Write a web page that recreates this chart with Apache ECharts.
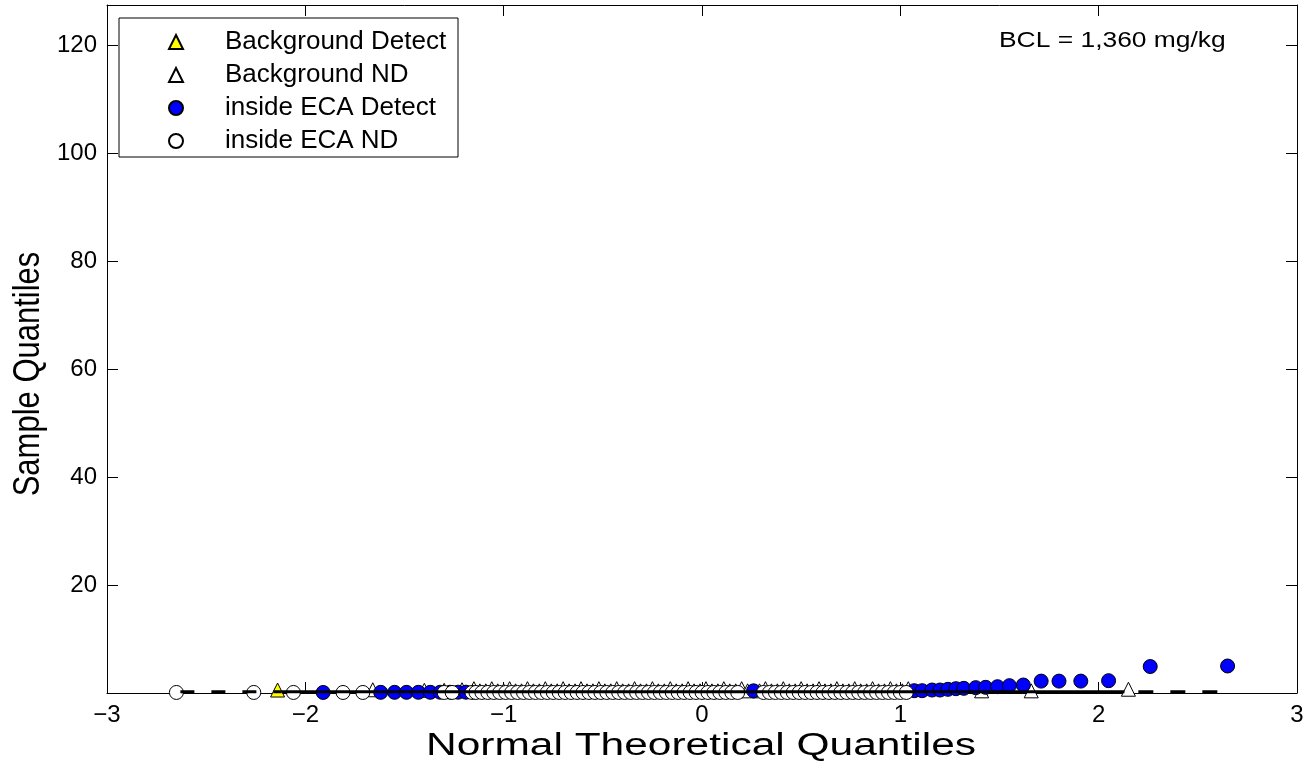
<!DOCTYPE html>
<html><head><meta charset="utf-8">
<script src="https://cdn.jsdelivr.net/npm/echarts@6/dist/echarts.min.js"></script>
<style>html,body{margin:0;padding:0;background:#fff}#c{width:1315px;height:771px}</style>
</head><body><div id="c"></div><script>
var xTicks = [-3, -2, -1, 0, 1, 2, 3];
var yTicks = [20, 40, 60, 80, 100, 120];

var bgDetect = [[-2.14, 0.55]];

var bgND = [
  [-1.66, 0.6], [-1.40, 0.5], [-1.30, 0.5], [-1.21, 0.6],
  [-1.15, 0.8], [-1.12, 0.4], [-1.09, 0.4], [-1.06, 0.8], [-1.03, 0.4], [-1.00, 0.4],
  [-0.97, 0.8], [-0.94, 0.4], [-0.91, 0.4], [-0.88, 0.8], [-0.85, 0.4], [-0.82, 0.4],
  [-0.79, 0.8], [-0.76, 0.4], [-0.73, 0.4], [-0.70, 0.8], [-0.67, 0.4], [-0.64, 0.4],
  [-0.61, 0.8], [-0.58, 0.4], [-0.55, 0.4], [-0.52, 0.8], [-0.49, 0.4], [-0.46, 0.4],
  [-0.43, 0.8], [-0.40, 0.4], [-0.37, 0.4], [-0.34, 0.8], [-0.31, 0.4], [-0.28, 0.4],
  [-0.25, 0.8], [-0.22, 0.4], [-0.19, 0.4], [-0.16, 0.8], [-0.13, 0.4], [-0.10, 0.4],
  [-0.07, 0.8], [-0.04, 0.4], [-0.01, 0.4], [0.02, 0.8], [0.05, 0.4], [0.08, 0.4],
  [0.11, 0.8], [0.14, 0.4], [0.17, 0.4], [0.20, 0.8], [0.23, 0.4], [0.29, 0.4],
  [0.32, 0.8], [0.35, 0.4], [0.38, 0.4], [0.41, 0.8], [0.44, 0.4], [0.47, 0.4],
  [0.50, 0.8], [0.53, 0.4], [0.56, 0.4], [0.59, 0.8], [0.62, 0.4], [0.65, 0.4],
  [0.68, 0.8], [0.71, 0.4], [0.74, 0.4], [0.77, 0.8], [0.80, 0.4], [0.83, 0.4],
  [0.86, 0.8], [0.89, 0.4], [0.92, 0.4], [0.95, 0.8], [0.98, 0.4], [1.01, 0.4],
  [1.04, 0.8], [1.41, 0.4], [1.66, 0.4], [2.15, 0.7]
];

var ecaDetect = [
  [-1.91, 0.10], [-1.62, 0.12], [-1.55, 0.12], [-1.49, 0.12], [-1.43, 0.13],
  [-1.37, 0.13], [-1.32, 0.14], [-1.27, 0.14], [-1.23, 0.15], [-1.19, 0.15],
  [0.26, 0.40],
  [1.07, 0.43], [1.11, 0.43], [1.16, 0.55], [1.20, 0.55], [1.24, 0.68],
  [1.28, 0.80], [1.32, 0.86], [1.38, 0.99], [1.43, 1.05], [1.49, 1.17],
  [1.55, 1.36], [1.62, 1.48], [1.71, 2.20], [1.80, 2.20], [1.91, 2.20],
  [2.05, 2.28], [2.26, 4.90], [2.65, 5.00]
];

var ecaND = [
  [-2.65, 0.1], [-2.26, 0.1], [-2.06, 0.1], [-1.81, 0.1], [-1.71, 0.1],
  [-1.30, 0.1], [-1.26, 0.1], [-1.16, 0.1],
  [-1.14, 0.1], [-1.11, 0.1], [-1.08, 0.1], [-1.05, 0.1], [-1.02, 0.1], [-0.99, 0.1],
  [-0.96, 0.1], [-0.93, 0.1], [-0.90, 0.1], [-0.87, 0.1], [-0.84, 0.1], [-0.81, 0.1],
  [-0.78, 0.1], [-0.75, 0.1], [-0.72, 0.1], [-0.69, 0.1], [-0.66, 0.1], [-0.63, 0.1],
  [-0.60, 0.1], [-0.57, 0.1], [-0.54, 0.1], [-0.51, 0.1], [-0.48, 0.1], [-0.45, 0.1],
  [-0.42, 0.1], [-0.39, 0.1], [-0.36, 0.1], [-0.33, 0.1], [-0.30, 0.1], [-0.27, 0.1],
  [-0.24, 0.1], [-0.21, 0.1], [-0.18, 0.1], [-0.15, 0.1], [-0.12, 0.1], [-0.09, 0.1],
  [-0.06, 0.1], [-0.03, 0.1], [0.00, 0.1], [0.03, 0.1], [0.06, 0.1], [0.09, 0.1],
  [0.12, 0.1], [0.15, 0.1], [0.18, 0.1], [0.31, 0.1],
  [0.34, 0.1], [0.37, 0.1], [0.40, 0.1], [0.43, 0.1], [0.46, 0.1], [0.49, 0.1],
  [0.52, 0.1], [0.55, 0.1], [0.58, 0.1], [0.61, 0.1], [0.64, 0.1], [0.67, 0.1],
  [0.70, 0.1], [0.73, 0.1], [0.76, 0.1], [0.79, 0.1], [0.82, 0.1], [0.85, 0.1],
  [0.88, 0.1], [0.91, 0.1], [0.94, 0.1], [0.97, 0.1], [1.00, 0.1], [1.03, 0.1]
];

var fitSolid = [[-2.12, 0.25], [2.13, 0.25]];
var fitDashLeft = [[-2.63, 0.25], [-2.12, 0.25]];
var fitDashRight = [[2.20, 0.25], [2.60, 0.25]];

var FONT = 'Liberation Sans';
var chart = echarts.init(document.getElementById('c'));

function xFmt(v) {
  if (xTicks.indexOf(v) < 0) return '';
  return v < 0 ? '\u2212' + Math.abs(v) : String(v);
}
function yFmt(v) {
  return yTicks.indexOf(v) >= 0 ? String(v) : '';
}

var common = {
  axisLine: { show: true, onZero: false, lineStyle: { color: '#000', width: 1 } },
  axisTick: { show: true, inside: true, length: 11, lineStyle: { color: '#000', width: 1 } },
  splitLine: { show: false }
};

chart.setOption({
  animation: false,
  backgroundColor: '#fff',
  grid: { left: 107, right: 18, top: 5, bottom: 78, outerBoundsMode: 'none', containLabel: false },
  xAxis: [
    Object.assign({
      type: 'value', min: -3, max: 3, interval: 1, position: 'bottom',
      axisLabel: { formatter: xFmt, color: '#000', fontSize: 24, fontFamily: FONT, margin: 10 }
    }, common),
    Object.assign({
      type: 'value', min: -3, max: 3, interval: 1, position: 'top',
      axisLabel: { show: false }
    }, common)
  ],
  yAxis: [
    Object.assign({
      type: 'value', min: 0, max: 127.4, interval: 20, position: 'left',
      axisLabel: { formatter: yFmt, color: '#000', fontSize: 24, fontFamily: FONT, margin: 10 }
    }, common),
    Object.assign({
      type: 'value', min: 0, max: 127.4, interval: 20, position: 'right',
      axisLabel: { show: false }
    }, common)
  ],
  legend: {
    orient: 'vertical', left: 168, top: 29, padding: 0,
    itemWidth: 14, itemHeight: 14, itemGap: 7, selectedMode: false, z: 10,
    textStyle: { color: '#000', fontSize: 26, fontFamily: FONT, padding: [0, 0, 0, 37] },
    data: ['Background Detect', 'Background ND', 'inside ECA Detect', 'inside ECA ND']
  },
  graphic: [
    { type: 'rect', z: 3, shape: { x: 119, y: 18, width: 339, height: 139 },
      style: { fill: '#fff', stroke: '#000', lineWidth: 1 } },
    { type: 'text', z: 3, x: 999, y: 41, scaleX: 1.2,
      style: { text: 'BCL = 1,360 mg/kg', fill: '#000', font: '22px "Liberation Sans"', verticalAlign: 'middle' } },
    { type: 'text', z: 3, x: 701, y: 746, scaleX: 1.37,
      style: { text: 'Normal Theoretical Quantiles', fill: '#000', font: '31px "Liberation Sans"', align: 'center', verticalAlign: 'middle' } },
    { type: 'text', z: 3, x: 29, y: 374, rotation: Math.PI / 2, scaleY: 1.2,
      style: { text: 'Sample Quantiles', fill: '#000', font: '31px "Liberation Sans"', align: 'center', verticalAlign: 'middle' } }
  ],
  series: [
    { name: 'Background ND', type: 'scatter', symbol: 'triangle', symbolSize: 14, data: bgND,
      itemStyle: { color: '#fff', borderColor: '#000', borderWidth: 1, opacity: 1 }, z: 2 },
    { name: 'Background Detect', type: 'scatter', symbol: 'triangle', symbolSize: 14, data: bgDetect,
      itemStyle: { color: '#ffff00', borderColor: '#000', borderWidth: 1, opacity: 1 }, z: 3 },
    { name: 'inside ECA Detect', type: 'scatter', symbol: 'circle', symbolSize: 14, data: ecaDetect,
      itemStyle: { color: '#0000ff', borderColor: '#000', borderWidth: 1, opacity: 1 }, z: 4 },
    { name: 'inside ECA ND', type: 'scatter', symbol: 'circle', symbolSize: 14, data: ecaND,
      itemStyle: { color: '#fff', borderColor: '#000', borderWidth: 1, opacity: 1 }, z: 5 },
    { type: 'line', data: fitSolid, symbol: 'none', silent: true, z: 6,
      lineStyle: { color: '#000', width: 3 } },
    { type: 'line', data: fitDashLeft, symbol: 'none', silent: true, z: 6,
      lineStyle: { color: '#000', width: 3, type: [14, 17] } },
    { type: 'line', data: fitDashRight, symbol: 'none', silent: true, z: 6,
      lineStyle: { color: '#000', width: 3, type: [15, 17] } }
  ]
});
</script></body></html>
